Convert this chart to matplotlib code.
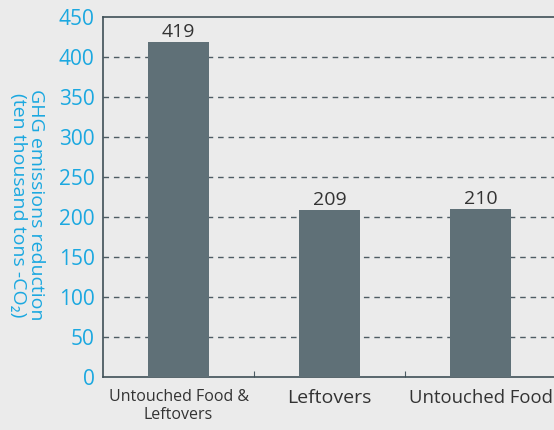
import matplotlib.pyplot as plt

# data
categories = ['Untouched Food &\nLeftovers', 'Leftovers', 'Untouched Food']
values = [419, 209, 210]
yticks = [0, 50, 100, 150, 200, 250, 300, 350, 400, 450]

bg = '#ebebeb'
bar_color = '#5f7077'
cyan = '#1ba8e0'
dark = '#333333'

plt.rcParams['font.family'] = ['Open Sans', 'DejaVu Sans']

fig = plt.figure(figsize=(5.54, 4.30), dpi=100, facecolor=bg)
ax = fig.add_axes([0.186, 0.1233, 0.818, 0.8372], facecolor=bg)

x = range(len(categories))
bars = ax.bar(x, values, width=0.4, color=bar_color, zorder=3)
for b, v in zip(bars, values):
    ax.text(b.get_x() + b.get_width() / 2, v + 1, str(v), ha='center', va='bottom',
            fontsize=14, color=dark)

ax.set_xlim(-0.5, 2.5)
ax.set_ylim(0, 450)
ax.set_yticks(yticks)
ax.set_yticklabels([str(t) for t in yticks], color=cyan, fontsize=15)
ax.tick_params(axis='y', length=0, pad=6)

# dashed grid lines
for t in yticks[1:-1]:
    ax.axhline(t, color='#4d5c63', lw=1.0, ls=(0, (4, 3.5)), zorder=1)

ax.set_xticks([0.5, 1.5])
ax.set_xticklabels([])
ax.tick_params(axis='x', length=4, color='#4d5c63', direction='in')
label_sizes = [11.5, 14, 13.3]
for i, c in enumerate(categories):
    ax.text(i, -15, c, ha='center', va='top', color=dark, fontsize=label_sizes[i],
            linespacing=1.2)

for s in ['left', 'bottom', 'top']:
    ax.spines[s].set_color('#3f5057')
    ax.spines[s].set_linewidth(1.2)
ax.spines['right'].set_visible(False)

fig.text(27 / 554, 1 - 205 / 430, 'GHG emissions reduction\n(ten thousand tons -CO\u2082)',
         color=cyan, fontsize=14, rotation=270, ha='center', va='center',
         linespacing=1.05, rotation_mode='anchor')

fig.savefig('out.png', dpi=100, facecolor=bg)
